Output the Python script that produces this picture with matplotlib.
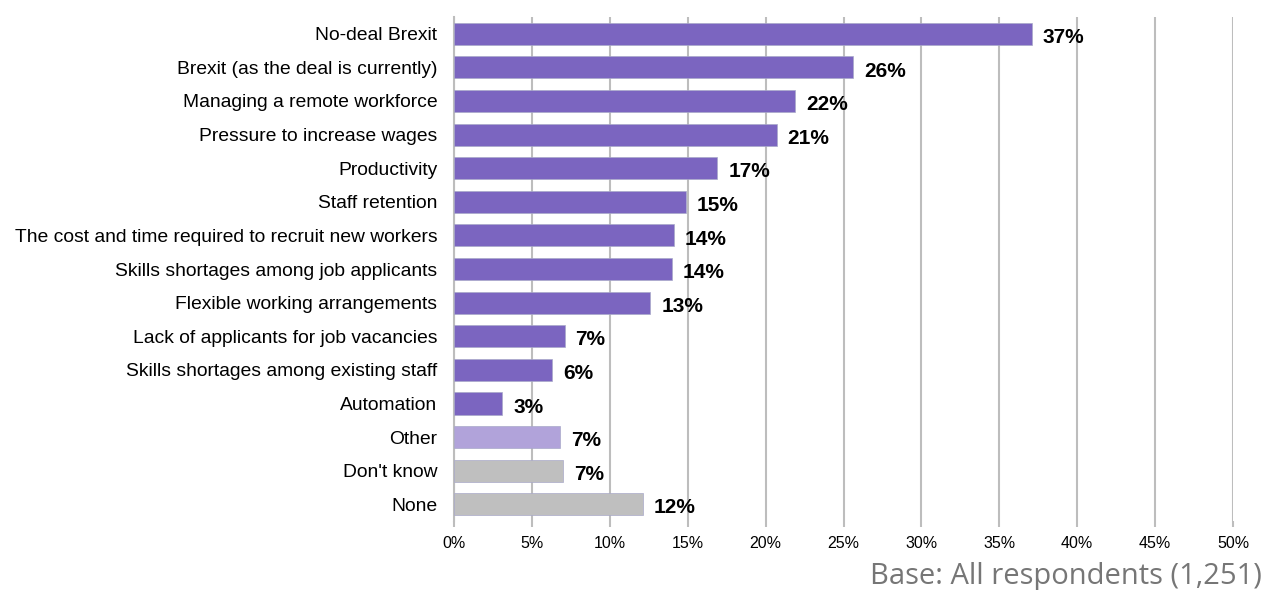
import matplotlib
matplotlib.use("Agg")
import matplotlib.pyplot as plt
from matplotlib.ticker import FuncFormatter

categories = [
    "No-deal Brexit",
    "Brexit (as the deal is currently)",
    "Managing a remote workforce",
    "Pressure to increase wages",
    "Productivity",
    "Staff retention",
    "The cost and time required to recruit new workers",
    "Skills shortages among job applicants",
    "Flexible working arrangements",
    "Lack of applicants for job vacancies",
    "Skills shortages among existing staff",
    "Automation",
    "Other",
    "Don't know",
    "None",
]
values = [37.1, 25.6, 21.9, 20.7, 16.9, 14.9, 14.1, 14.0, 12.6, 7.1, 6.3, 3.1, 6.8, 7.0, 12.1]
groups = ["issue"] * 12 + ["other", "none", "none"]
group_colors = {"issue": "#7B65C0", "other": "#B1A3DA", "none": "#BFBFBF"}
xticks = [0, 5, 10, 15, 20, 25, 30, 35, 40, 45, 50]
base_note = "Base: All respondents (1,251)"

plt.rcParams["font.family"] = ["Liberation Sans", "DejaVu Sans"]

fig = plt.figure(figsize=(12.64, 5.90), dpi=100)
ax = fig.add_axes([0.3592, 0.1169, 0.6163, 0.8543])

ypos = list(range(len(categories)))
colors = [group_colors[g] for g in groups]
ax.barh(ypos, values, height=0.66, color=colors, edgecolor="#A9A9C9", linewidth=0.5, zorder=3)

for y, v in zip(ypos, values):
    ax.text(v + 0.7, y + 0.05, f"{v:.0f}%", va="center_baseline", ha="left",
            fontsize=15, fontweight="bold", color="#000000", zorder=4)

ax.set_xlim(0, 50)
ax.set_ylim(len(categories) - 0.5, -0.5)
ax.set_xticks(xticks)
ax.xaxis.set_major_formatter(FuncFormatter(lambda x, _: f"{x:.0f}%"))
ax.set_yticks(ypos)
ax.set_yticklabels(categories, fontsize=13.9)

ax.grid(axis="x", color="#BDBDBD", linewidth=1.5, zorder=0)
for side in ["top", "right", "bottom"]:
    ax.spines[side].set_visible(False)
ax.spines["left"].set_color("#BDBDBD")
ax.spines["left"].set_linewidth(1.5)
ax.tick_params(axis="y", length=0, pad=12)
ax.tick_params(axis="x", length=4, width=1.5, color="#BDBDBD", labelsize=11.5, pad=7)

fig.text(0.998, 0.011, base_note, ha="right", va="baseline", fontsize=21,
         color="#767676", family=["Open Sans", "DejaVu Sans"])

fig.savefig("out.png", dpi=100, facecolor="white")
